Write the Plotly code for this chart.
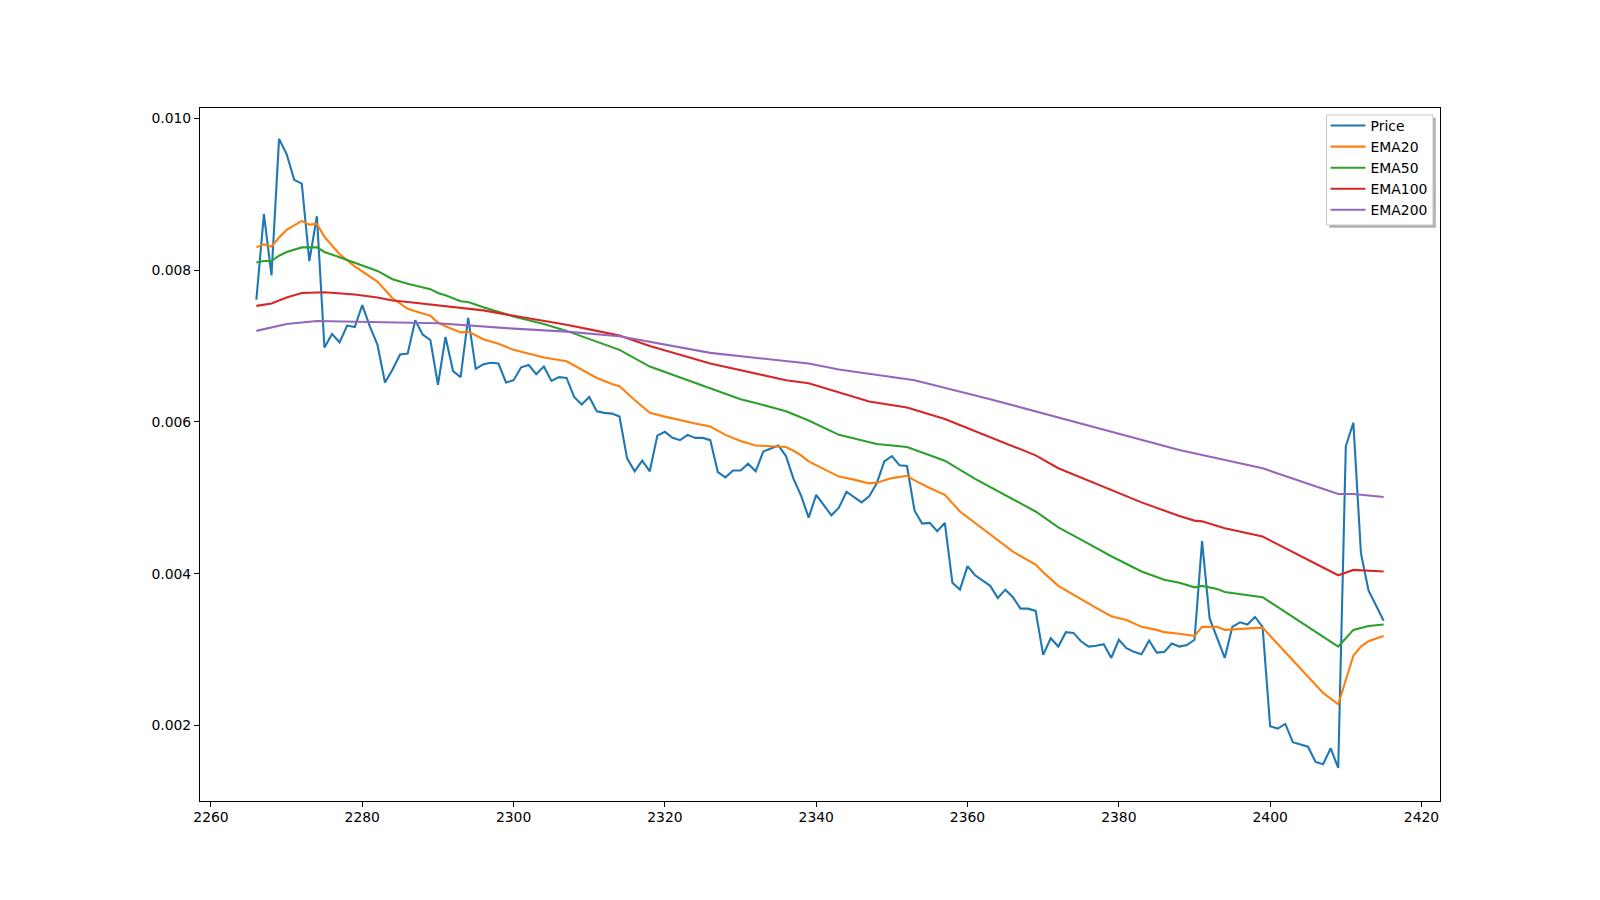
import plotly.graph_objects as go

# ---- data ----
price_x = list(range(2266, 2416))
price_y = [
    0.00761, 0.00874, 0.00793, 0.00973, 0.00953, 0.00919, 0.00914, 0.00812, 0.00871, 0.00698,
    0.00716, 0.00705, 0.00727, 0.00725, 0.00754, 0.00726, 0.00702, 0.00652, 0.00669, 0.00689,
    0.00690, 0.00734, 0.00715, 0.00708, 0.00649, 0.00712, 0.00667, 0.00659, 0.00737, 0.00670,
    0.00676, 0.00678, 0.00677, 0.00652, 0.00655, 0.00672, 0.00675, 0.00663, 0.00673, 0.00654,
    0.00659, 0.00658, 0.00633, 0.00623, 0.00633, 0.00614, 0.00612, 0.00611, 0.00607, 0.00552,
    0.00535, 0.00549, 0.00535, 0.00582, 0.00587, 0.00579, 0.00576, 0.00583, 0.00579, 0.00579,
    0.00576, 0.00534, 0.00527, 0.00536, 0.00536, 0.00545, 0.00535, 0.00561, 0.00565, 0.00569,
    0.00555, 0.00525, 0.00503, 0.00474, 0.00504, 0.00491, 0.00477, 0.00487, 0.00508, 0.00501,
    0.00494, 0.00502, 0.00519, 0.00548, 0.00555, 0.00543, 0.00542, 0.00483, 0.00466, 0.00467,
    0.00456, 0.00467, 0.00388, 0.00379, 0.00410, 0.00398, 0.00391, 0.00384, 0.00368, 0.00379,
    0.00369, 0.00354, 0.00354, 0.00351, 0.00293, 0.00315, 0.00304, 0.00323, 0.00322, 0.00311,
    0.00304, 0.00305, 0.00307, 0.00289, 0.00313, 0.00302, 0.00297, 0.00294, 0.00312, 0.00296,
    0.00297, 0.00308, 0.00304, 0.00306, 0.00313, 0.00443, 0.00341, 0.00316, 0.00289, 0.00330,
    0.00336, 0.00333, 0.00343, 0.00330, 0.00199, 0.00196, 0.00202, 0.00178, 0.00175, 0.00172,
    0.00152, 0.00149, 0.00170, 0.00144, 0.00568, 0.00599, 0.00427, 0.00378, 0.00358, 0.00338,
]

ema20_x = [2266, 2267, 2268, 2269, 2270, 2271, 2272, 2273, 2274, 2275, 2277, 2279, 2280, 2282,
           2284, 2286, 2287, 2289, 2290, 2291, 2293, 2294, 2296, 2298, 2300, 2302, 2304, 2307,
           2309, 2311, 2313, 2314, 2316, 2318, 2320, 2322, 2324, 2326, 2328, 2330, 2332, 2334,
           2336, 2337, 2338, 2339, 2341, 2343, 2345, 2347, 2348, 2350, 2352, 2353, 2355, 2357,
           2359, 2361, 2364, 2366, 2369, 2370, 2372, 2375, 2377, 2379, 2381, 2383, 2385, 2386,
           2388, 2390, 2391, 2393, 2394, 2399, 2407, 2409, 2411, 2412, 2413, 2415]
ema20_y = [0.00830, 0.00834, 0.00831, 0.00843, 0.00853, 0.00859, 0.00865, 0.00860, 0.00861, 0.00844,
           0.00821, 0.00805, 0.00798, 0.00785, 0.00763, 0.00749, 0.00746, 0.00740, 0.00731, 0.00726,
           0.00718, 0.00719, 0.00709, 0.00703, 0.00695, 0.00690, 0.00685, 0.00680, 0.00669, 0.00658,
           0.00650, 0.00647, 0.00629, 0.00612, 0.00607, 0.00602, 0.00598, 0.00594, 0.00583, 0.00575,
           0.00569, 0.00568, 0.00567, 0.00562, 0.00556, 0.00548, 0.00538, 0.00528, 0.00524, 0.00519,
           0.00520, 0.00526, 0.00529, 0.00523, 0.00513, 0.00504, 0.00482, 0.00467, 0.00445, 0.00429,
           0.00412, 0.00402, 0.00384, 0.00366, 0.00355, 0.00344, 0.00339, 0.00330, 0.00326, 0.00323,
           0.00321, 0.00318, 0.00330, 0.00330, 0.00326, 0.00329, 0.00243, 0.00228, 0.00292, 0.00304,
           0.00311, 0.00318]

ema50_x = [2266, 2267, 2268, 2269, 2270, 2272, 2274, 2275, 2277, 2279, 2280, 2282, 2284, 2286,
           2289, 2290, 2291, 2293, 2294, 2296, 2300, 2304, 2307, 2311, 2313, 2314, 2318, 2322,
           2326, 2330, 2332, 2336, 2339, 2343, 2348, 2352, 2357, 2361, 2369, 2372, 2375, 2379,
           2383, 2386, 2388, 2390, 2391, 2393, 2394, 2399, 2409, 2411, 2413, 2415]
ema50_y = [0.00810, 0.00812, 0.00812, 0.00819, 0.00824, 0.00830, 0.00830, 0.00824, 0.00817, 0.00810,
           0.00807, 0.00799, 0.00788, 0.00782, 0.00775, 0.00770, 0.00767, 0.00759, 0.00758, 0.00751,
           0.00739, 0.00729, 0.00720, 0.00706, 0.00699, 0.00695, 0.00673, 0.00659, 0.00644, 0.00630,
           0.00625, 0.00614, 0.00602, 0.00583, 0.00571, 0.00567, 0.00549, 0.00525, 0.00482, 0.00461,
           0.00445, 0.00423, 0.00403, 0.00392, 0.00388, 0.00382, 0.00384, 0.00380, 0.00376, 0.00369,
           0.00304, 0.00326, 0.00331, 0.00333]

ema100_x = [2266, 2268, 2270, 2272, 2275, 2279, 2282, 2284, 2286, 2290, 2296, 2300, 2307, 2311,
            2314, 2318, 2326, 2336, 2339, 2347, 2352, 2357, 2369, 2372, 2379, 2383, 2388, 2390,
            2391, 2394, 2399, 2409, 2411, 2415]
ema100_y = [0.00753, 0.00756, 0.00764, 0.00770, 0.00771, 0.00768, 0.00764, 0.00760, 0.00758, 0.00754,
            0.00747, 0.00740, 0.00728, 0.00720, 0.00714, 0.00700, 0.00677, 0.00655, 0.00651, 0.00627,
            0.00619, 0.00604, 0.00556, 0.00539, 0.00511, 0.00494, 0.00476, 0.00470, 0.00469, 0.00460,
            0.00449, 0.00398, 0.00405, 0.00403]

ema200_x = [2266, 2270, 2274, 2279, 2286, 2290, 2300, 2307, 2314, 2326, 2339, 2343, 2353, 2357,
            2363, 2388, 2399, 2409, 2411, 2415]
ema200_y = [0.00720, 0.00729, 0.00733, 0.00732, 0.00730, 0.00730, 0.00723, 0.00719, 0.00713, 0.00691,
            0.00677, 0.00669, 0.00655, 0.00645, 0.00630, 0.00563, 0.00539, 0.00505, 0.00505, 0.00501]

x_ticks = [2260, 2280, 2300, 2320, 2340, 2360, 2380, 2400, 2420]
y_ticks = [0.002, 0.004, 0.006, 0.008, 0.010]

series = [
    ("Price", price_x, price_y, "#1f77b4"),
    ("EMA20", ema20_x, ema20_y, "#ff7f0e"),
    ("EMA50", ema50_x, ema50_y, "#2ca02c"),
    ("EMA100", ema100_x, ema100_y, "#d62728"),
    ("EMA200", ema200_x, ema200_y, "#9467bd"),
]

fig = go.Figure()
for name, xs, ys, col in series:
    fig.add_trace(go.Scatter(x=xs, y=ys, mode="lines", name=name,
                             line=dict(color=col, width=2.1)))

axis_common = dict(showline=True, mirror=True, linecolor="black", linewidth=1.1,
                   ticks="outside", ticklen=5, tickwidth=1.1, tickcolor="black",
                   showgrid=False, zeroline=False,
                   tickfont=dict(family="DejaVu Sans", size=13.9, color="black"))

# legend frame (box + shadow) in paper coordinates
frame_x0, frame_x1 = 0.90847, 0.99435
frame_y0, frame_y1 = 0.83117, 0.98990
sh_dx, sh_dy = 0.00226, 0.00404

fig.update_layout(
    width=1600, height=900,
    margin=dict(l=200, r=160, t=108, b=99, pad=0),
    paper_bgcolor="white", plot_bgcolor="white",
    font=dict(family="DejaVu Sans", size=13.9, color="black"),
    xaxis=dict(range=[2258.55, 2422.45], tickvals=x_ticks,
               ticktext=[str(v) for v in x_ticks], ticklabelstandoff=-2, **axis_common),
    yaxis=dict(range=[0.001005, 0.010137], tickvals=y_ticks,
               ticktext=[f"{v:.3f}" for v in y_ticks], **axis_common),
    legend=dict(x=0.9077, y=0.9971, xanchor="left", yanchor="top",
                bgcolor="rgba(0,0,0,0)", borderwidth=0,
                font=dict(family="DejaVu Sans", size=13.9, color="black"),
                itemwidth=35, tracegroupgap=0),
    shapes=[
        dict(type="rect", xref="paper", yref="paper",
             x0=frame_x0 + sh_dx, x1=frame_x1 + sh_dx,
             y0=frame_y0 - sh_dy, y1=frame_y1 - sh_dy,
             fillcolor="rgba(110,110,110,0.55)", line=dict(width=0), layer="above"),
        dict(type="rect", xref="paper", yref="paper",
             x0=frame_x0, x1=frame_x1, y0=frame_y0, y1=frame_y1,
             fillcolor="white", line=dict(color="#c8c8c8", width=1), layer="above"),
    ],
)

fig.write_html("out.html")
